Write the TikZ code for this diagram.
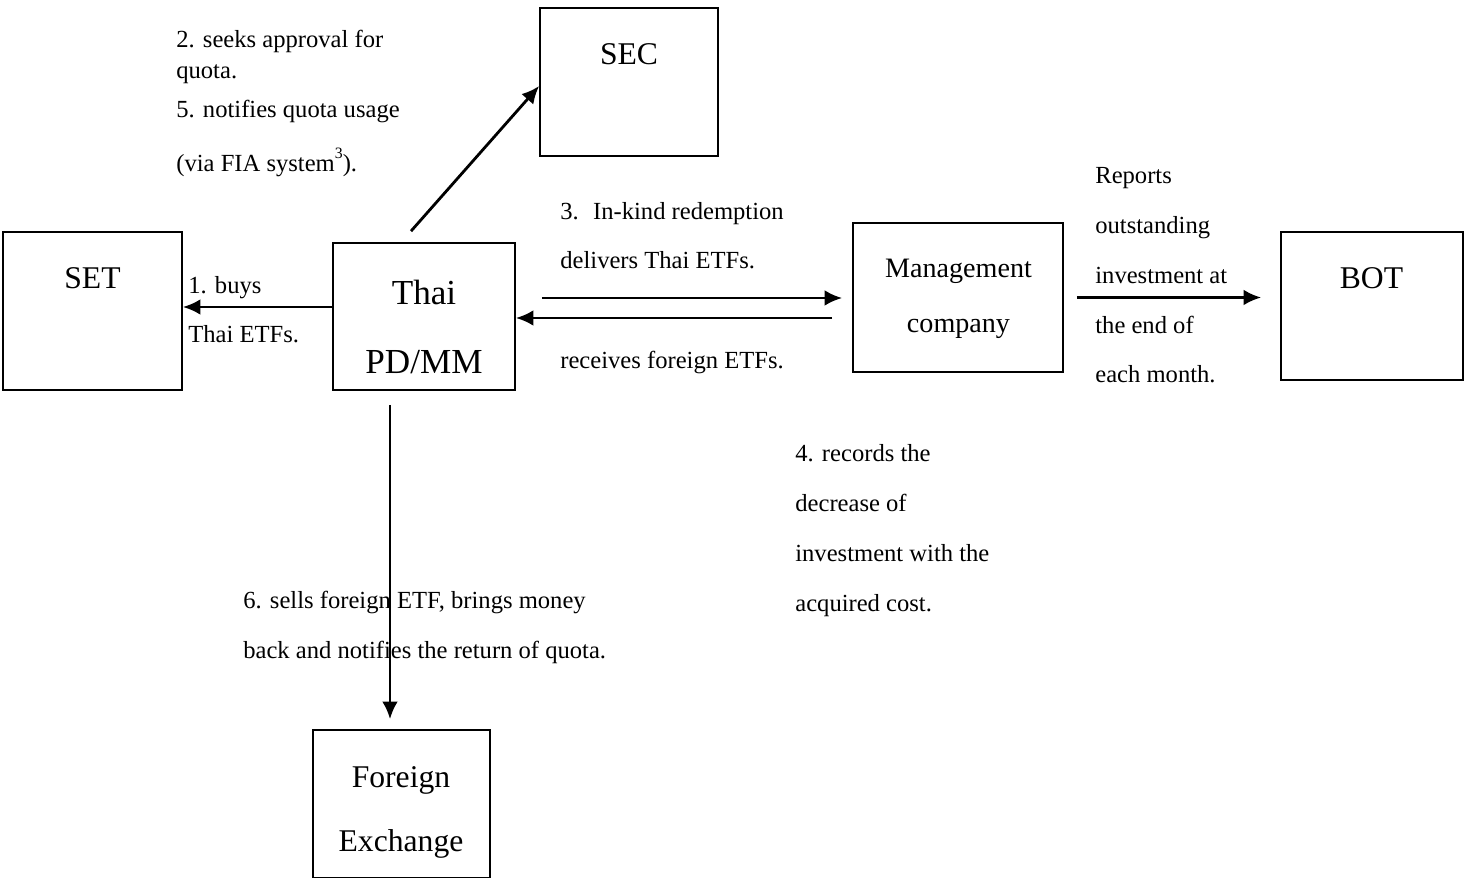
\documentclass[tikz,border=0pt]{standalone}
\usepackage{fontspec}
\setmainfont{Liberation Serif}
\usetikzlibrary{arrows.meta}

\begin{document}
\begin{tikzpicture}[x=0.02cm, y=-0.02cm,
	box/.style={draw, line width=1pt, rectangle, inner sep=0pt},
	arr/.style={line width=1.6pt, -{Latex[length=10pt,width=9pt]}},
	lbl/.style={anchor=base west, align=left, inner sep=0pt, font=\fontsize{14}{28.4}\selectfont},
	big/.style={anchor=base, align=center, inner sep=0pt, font=\fontsize{18}{36.3}\selectfont}]
	\useasboundingbox (0,0) rectangle (1471,878);
	%boxes
	\node[box, minimum width=3.58cm, minimum height=3.16cm] (set) at (92.5,311) {};
	\node[box, minimum width=3.64cm, minimum height=2.94cm] (thai) at (424,316.5) {};
	\node[box, minimum width=3.56cm, minimum height=2.96cm] (sec) at (629,82) {};
	\node[box, minimum width=4.2cm, minimum height=2.98cm] (mgmt) at (958,297.5) {};
	\node[box, minimum width=3.64cm, minimum height=2.96cm] (bot) at (1372,306) {};
	\node[box, minimum width=3.54cm, minimum height=2.96cm] (fx) at (401.5,804) {};
	%box texts (base = last line)
	\node[big] (settxt) at (92.5,289) {SET};
	\node[big] (sectxt) at (629,65) {SEC};
	\node[big] (bottxt) at (1371.5,289) {BOT};
	\node[big, font=\fontsize{20}{39.7}\selectfont] (thaitxt) at (424,374) {Thai\\PD/MM};
	\node[big, font=\fontsize{16}{31.8}\selectfont] (mgmttxt) at (958.5,333) {Management\\company};
	\node[big] (fxtxt) at (401,851) {Foreign\\Exchange};
	%arrows
	\draw[arr] (thai.west |- 0,307) -- (set.east |- 0,307);
	\draw[arr] ([shift={(-13,-11)}]thai.north) -- ([shift={(0,4)}]sec.west);
	\draw[arr, shorten <=0.52cm, shorten >=0.2cm] (thai.east |- 0,298) -- (mgmt.west |- 0,298);
	\draw[arr, shorten <=0.4cm] (mgmt.west |- 0,318) -- (thai.east |- 0,318);
	\draw[arr, shorten <=0.28cm, shorten >=0.2cm] (390,0 |- thai.south) -- (390,0 |- fx.north);
	\draw[arr, shorten <=0.26cm, shorten >=0.38cm] (mgmt.east) -- (bot.west |- mgmt.east);
	%labels
	\node[lbl, font=\fontsize{14}{18.2}\selectfont] (l2) at (176,79) {2. seeks approval for\\quota.};
	\node[lbl] (l5) at (176,118) {5. notifies quota usage};
	\node[lbl] (l5b) at (176,172) {(via FIA system\raisebox{0.55em}{\fontsize{9}{9}\selectfont 3}).};
	\node[lbl] (l1) at (188,343) {1. buys\\Thai ETFs.};
	\node[lbl] (l3) at (560,269) {3.~ In-kind redemption\\delivers Thai ETFs.};
	\node[lbl] (l3b) at (560,369) {receives foreign ETFs.};
	\node[lbl] (lrep) at (1095,383) {Reports\\outstanding\\investment at\\the end of\\each month.};
	\node[lbl] (l4) at (795,611) {4. records the\\decrease of\\investment with the\\acquired cost.};
	\node[lbl] (l6) at (243,658) {6. sells foreign ETF, brings money\\back and notifies the return of quota.};
\end{tikzpicture}
\end{document}
